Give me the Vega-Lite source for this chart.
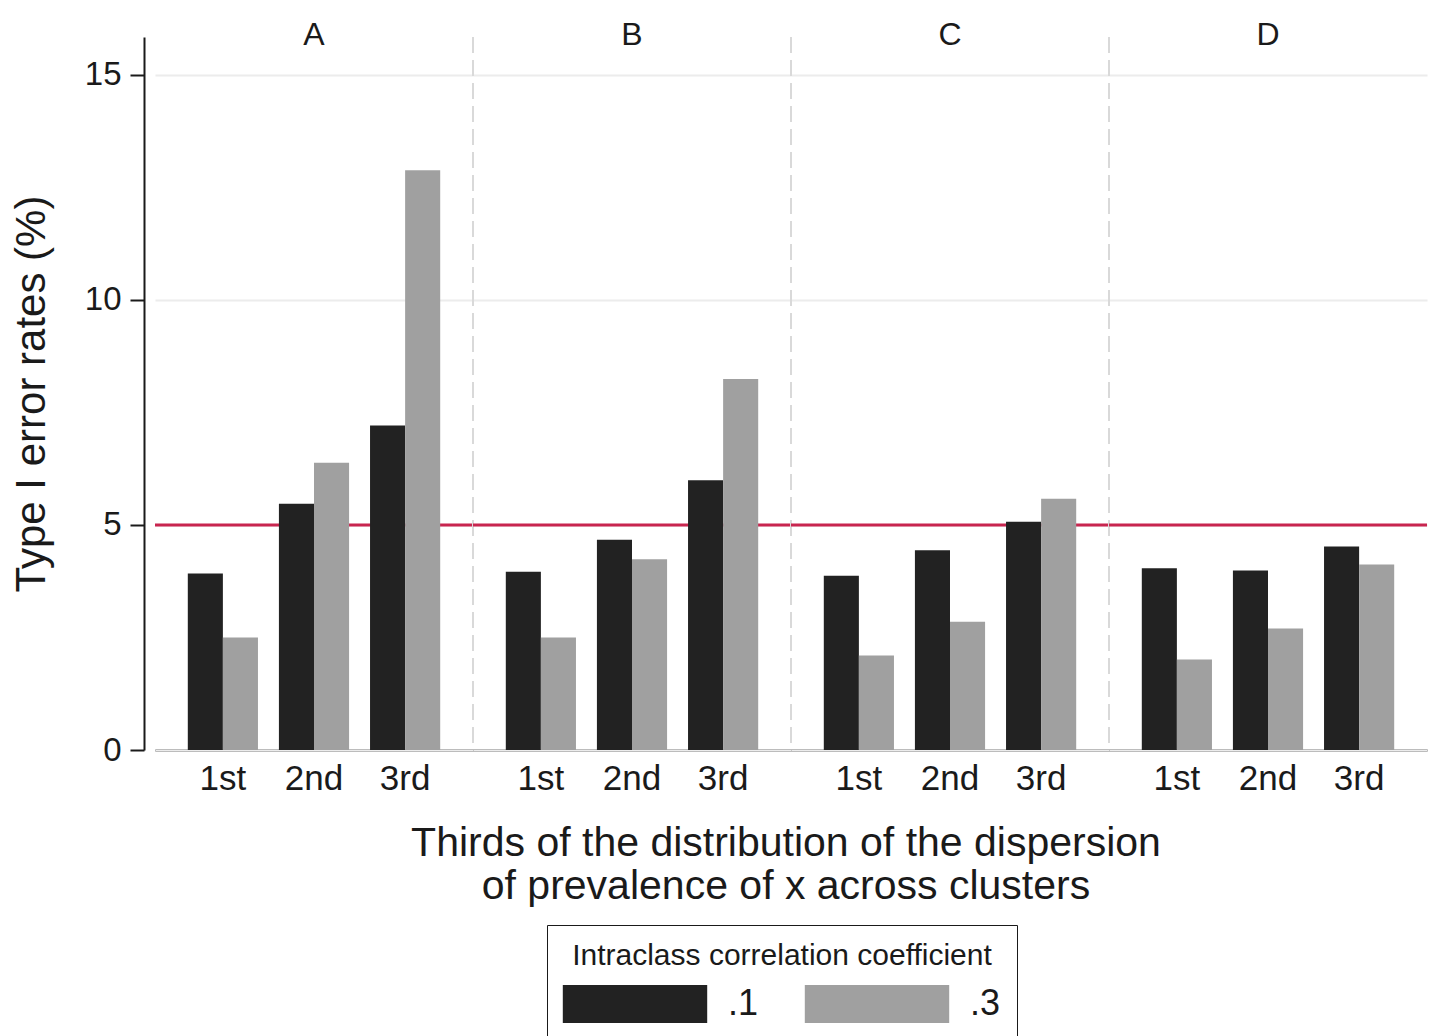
{
  "$schema": "https://vega.github.io/schema/vega-lite/v6.json",
  "background": "white",
  "padding": {"left": 10, "top": 19, "right": 5, "bottom": 0},
  "bounds": "flush",
  "data": {
    "values": [
      {"panel": "A", "third": "1st", "icc": ".1", "rate": 3.92},
      {"panel": "A", "third": "1st", "icc": ".3", "rate": 2.50},
      {"panel": "A", "third": "2nd", "icc": ".1", "rate": 5.47},
      {"panel": "A", "third": "2nd", "icc": ".3", "rate": 6.38},
      {"panel": "A", "third": "3rd", "icc": ".1", "rate": 7.21},
      {"panel": "A", "third": "3rd", "icc": ".3", "rate": 12.88},
      {"panel": "B", "third": "1st", "icc": ".1", "rate": 3.96},
      {"panel": "B", "third": "1st", "icc": ".3", "rate": 2.50},
      {"panel": "B", "third": "2nd", "icc": ".1", "rate": 4.67},
      {"panel": "B", "third": "2nd", "icc": ".3", "rate": 4.24},
      {"panel": "B", "third": "3rd", "icc": ".1", "rate": 5.99},
      {"panel": "B", "third": "3rd", "icc": ".3", "rate": 8.24},
      {"panel": "C", "third": "1st", "icc": ".1", "rate": 3.87},
      {"panel": "C", "third": "1st", "icc": ".3", "rate": 2.10},
      {"panel": "C", "third": "2nd", "icc": ".1", "rate": 4.44},
      {"panel": "C", "third": "2nd", "icc": ".3", "rate": 2.85},
      {"panel": "C", "third": "3rd", "icc": ".1", "rate": 5.07},
      {"panel": "C", "third": "3rd", "icc": ".3", "rate": 5.58},
      {"panel": "D", "third": "1st", "icc": ".1", "rate": 4.04},
      {"panel": "D", "third": "1st", "icc": ".3", "rate": 2.01},
      {"panel": "D", "third": "2nd", "icc": ".1", "rate": 3.99},
      {"panel": "D", "third": "2nd", "icc": ".3", "rate": 2.70},
      {"panel": "D", "third": "3rd", "icc": ".1", "rate": 4.52},
      {"panel": "D", "third": "3rd", "icc": ".3", "rate": 4.12}
    ]
  },
  "spacing": 0,
  "facet": {
    "column": {
      "field": "panel",
      "type": "nominal",
      "title": ["Thirds of the distribution of the dispersion", "of prevalence of x across clusters"],
      "header": {
        "labelOrient": "top",
        "labelFont": "Liberation Sans",
        "labelFontSize": 32,
        "labelColor": "#1a1a1a",
        "labelPadding": -15,
        "titleOrient": "bottom",
        "titleFont": "Liberation Sans",
        "titleFontSize": 41,
        "titleFontWeight": "normal",
        "titleColor": "#1a1a1a",
        "titleLineHeight": 43,
        "titlePadding": 18
      }
    }
  },
  "spec": {
    "width": 318,
    "height": 713,
    "encoding": {
      "x": {
        "field": "third",
        "type": "nominal",
        "sort": ["1st", "2nd", "3rd"],
        "scale": {"paddingInner": 0.23, "paddingOuter": 0.36},
        "axis": {
          "title": null,
          "labelAngle": 0,
          "labelFont": "Liberation Sans",
          "labelFontSize": 35,
          "labelColor": "#1a1a1a",
          "labelPadding": 11,
          "ticks": false,
          "grid": false,
          "domainColor": "#1a1a1a",
          "domainWidth": 2
        }
      }
    },
    "layer": [
      {
        "transform": [{"filter": "datum.panel != 'A' && datum.third == '1st' && datum.icc == '.1'"}],
        "mark": {"type": "rule", "color": "#d9d9d9", "strokeWidth": 2, "strokeDash": [16, 7]},
        "encoding": {
          "x": {"field": "third", "type": "nominal", "sort": ["1st", "2nd", "3rd"], "bandPosition": -0.4675}
        }
      },
      {
        "transform": [{"filter": "datum.third == '1st' && datum.icc == '.1'"}],
        "mark": {"type": "rule", "color": "#c8254f", "strokeWidth": 3},
        "encoding": {
          "x": null,
          "y": {"datum": 5, "type": "quantitative"}
        }
      },
      {
        "mark": {"type": "bar"},
        "encoding": {
          "xOffset": {"field": "icc", "type": "nominal", "sort": [".1", ".3"]},
          "y": {
            "field": "rate",
            "type": "quantitative",
            "scale": {"domain": [0, 15.84], "nice": false},
            "axis": {
              "values": [0, 5, 10, 15],
              "title": "Type I error rates (%)",
              "titleFont": "Liberation Sans",
              "titleFontSize": 42,
              "titleFontWeight": "normal",
              "titleColor": "#1a1a1a",
              "titlePadding": 31,
              "labelFont": "Liberation Sans",
              "labelFontSize": 33,
              "labelColor": "#1a1a1a",
              "labelPadding": 9,
              "tickSize": 14,
              "tickWidth": 2,
              "tickColor": "#1a1a1a",
              "offset": 11,
              "grid": true,
              "gridColor": "#ececec",
              "gridWidth": 2,
              "domainColor": "#1a1a1a",
              "domainWidth": 2
            }
          },
          "color": {
            "field": "icc",
            "type": "nominal",
            "sort": [".1", ".3"],
            "scale": {"domain": [".1", ".3"], "range": ["#222222", "#a0a0a0"]},
            "legend": {
              "title": "Intraclass correlation coefficient",
              "orient": "none",
              "legendX": 392,
              "legendY": 888,
              "direction": "horizontal",
              "titleFont": "Liberation Sans",
              "titleFontSize": 30,
              "titleFontWeight": "normal",
              "titleColor": "#1a1a1a",
              "titleAnchor": "middle",
              "titleLimit": 0,
              "titlePadding": 14,
              "labelFont": "Liberation Sans",
              "labelFontSize": 36,
              "labelColor": "#1a1a1a",
              "labelOffset": 74,
              "columnPadding": 45,
              "symbolType": "M-3.8,-1L3.8,-1L3.8,1L-3.8,1Z",
              "symbolSize": 1444,
              "symbolOffset": 53,
              "symbolStrokeWidth": 0,
              "symbolOpacity": 1,
              "strokeColor": "#1a1a1a",
              "padding": 16
            }
          }
        }
      }
    ]
  },
  "config": {
    "font": "Liberation Sans",
    "view": {"stroke": null}
  }
}
